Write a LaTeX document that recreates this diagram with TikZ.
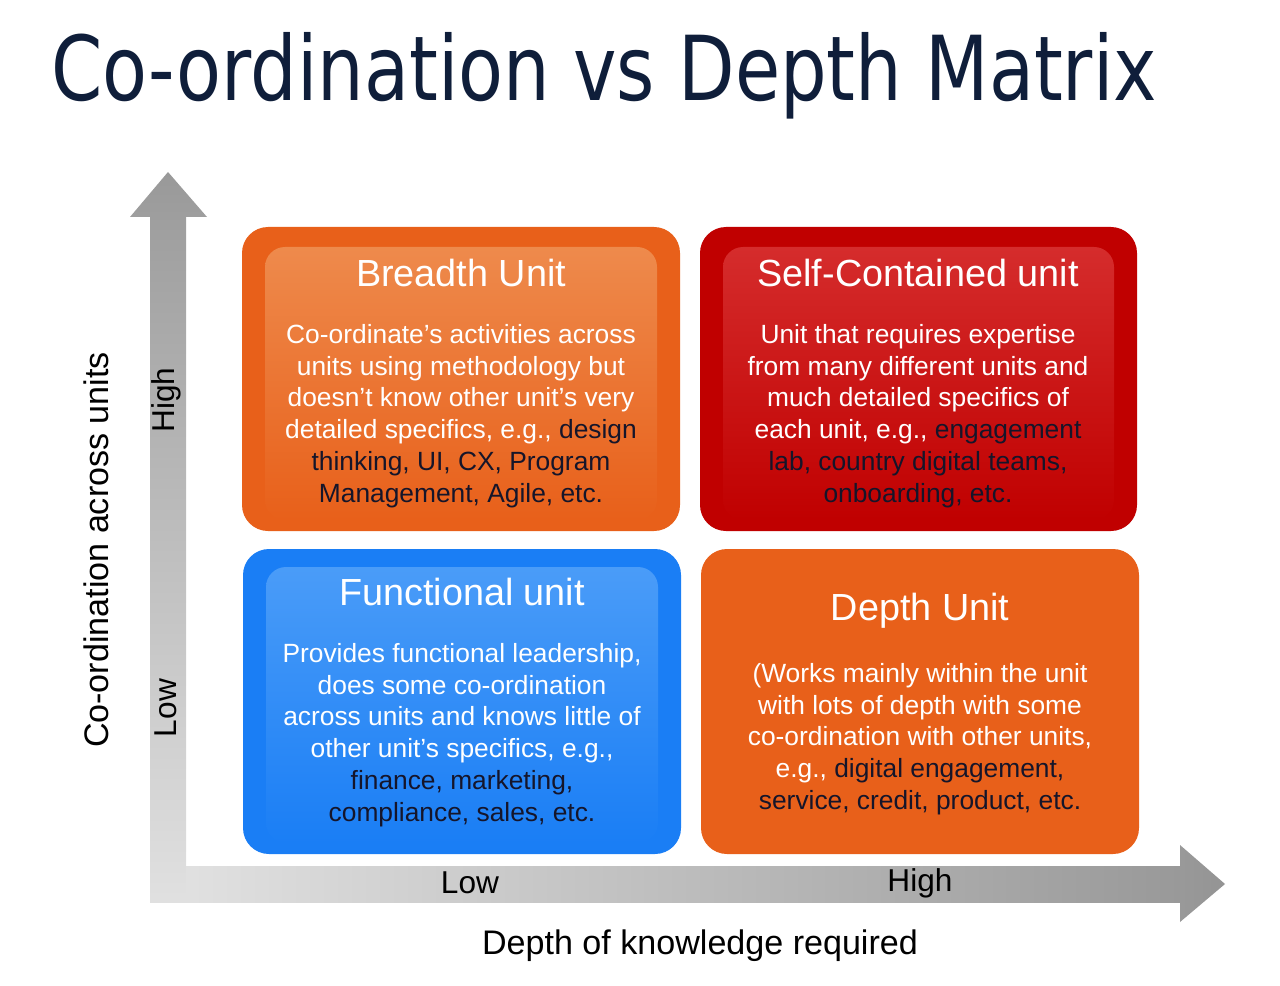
\documentclass[tikz,border=0pt]{standalone}
\usepackage{fontspec}
\setmainfont{Liberation Sans}
\newfontfamily\titlefont{DejaVu Sans}
\usetikzlibrary{positioning}
\definecolor{navy}{HTML}{0F1E3A}
\definecolor{brorange}{HTML}{E8601A}
\definecolor{brlight}{HTML}{EE8A4C}
\definecolor{scred}{HTML}{C00000}
\definecolor{sclight}{HTML}{D52C2C}
\definecolor{fublue}{HTML}{1A7EF5}
\definecolor{fulight}{HTML}{4A9CF8}
\definecolor{txtdark}{HTML}{15152A}
\tikzset{
  quad/.style={rounded corners=0.52cm},
  inner/.style={rounded corners=0.4cm},
  head/.style={text=white,font=\fontsize{21.5}{25}\selectfont},
  body/.style={align=center,font=\fontsize{15}{18.1}\selectfont,text=white},
  axlbl/.style={font=\fontsize{18}{21}\selectfont},
  axname/.style={font=\fontsize{19.4}{23}\selectfont}
}
\newcommand{\dk}[1]{\textcolor{txtdark}{#1}}
\begin{document}
\begin{tikzpicture}[x=0.02cm,y=-0.02cm]
\useasboundingbox (0,0) rectangle (1280,986);
\node[anchor=west,text=navy,xscale=0.82,font=\titlefont\fontsize{51}{56}\selectfont] (title) at (46,76) {Co-ordination vs Depth Matrix};
% axes
\shade[top color=black!38,bottom color=black!12] (150,215) rectangle (186,902);
\shade[top color=black!40,bottom color=black!38] (130,217)--(168,172)--(207,217)--cycle;
\shade[left color=black!12,right color=black!40] (186,866) rectangle (1180,902);
\shade[left color=black!40,right color=black!42] (1180,845)--(1225,884)--(1180,922)--cycle;
\node[axlbl,rotate=90] (yhigh) at (166,400) {High};
\node[axlbl,rotate=90] (ylow) at (166,708) {Low};
\node[axlbl] (xlow) at (470,883) {Low};
\node[axlbl] (xhigh) at (920,883) {High};
\node[axname,rotate=90] (ylbl) at (96,550) {Co-ordination across units};
\node[axname] (xlbl) at (700,946) {Depth of knowledge required};
% quadrants
\fill[quad,brorange] (242,227) rectangle (680,531);
\shade[inner,top color=brlight,bottom color=brorange] (265,247) rectangle (657,520);
\fill[quad,scred] (700,227) rectangle (1137,531);
\shade[inner,top color=sclight,bottom color=scred] (723,247) rectangle (1114,520);
\fill[quad,fublue] (243,549) rectangle (681,854);
\shade[inner,top color=fulight,bottom color=fublue] (266,567) rectangle (658,843);
\fill[quad,brorange] (701,549) rectangle (1139,854);
\node[head] (brhead) at (461,273) {Breadth Unit};
\node[body,anchor=north] (brbody) at (461,318) {Co-ordinate's activities across\\units using methodology but\\doesn’t know other unit’s very\\detailed specifics, e.g., \dk{design}\\\dk{thinking, UI, CX, Program}\\\dk{Management, Agile, etc.}};
\node[head] (schead) at (918,273) {Self-Contained unit};
\node[body,anchor=north] (scbody) at (918,318) {Unit that requires expertise\\from many different units and\\much detailed specifics of\\each unit, e.g., \dk{engagement}\\\dk{lab, country digital teams,}\\\dk{onboarding, etc.}};
\node[head] (fuhead) at (462,592) {Functional unit};
\node[body,anchor=north] (fubody) at (462,637) {Provides functional leadership,\\does some co-ordination\\across units and knows little of\\other unit's specifics, e.g.,\\\dk{finance, marketing,}\\\dk{compliance, sales, etc.}};
\node[head] (dehead) at (920,611) {Depth Unit};
\node[body,anchor=north] (debody) at (920,657) {(Works mainly within the unit\\with lots of depth with some\\co-ordination with other units,\\e.g., \dk{digital engagement,}\\\dk{service, credit, product, etc.}};
\end{tikzpicture}
\end{document}
